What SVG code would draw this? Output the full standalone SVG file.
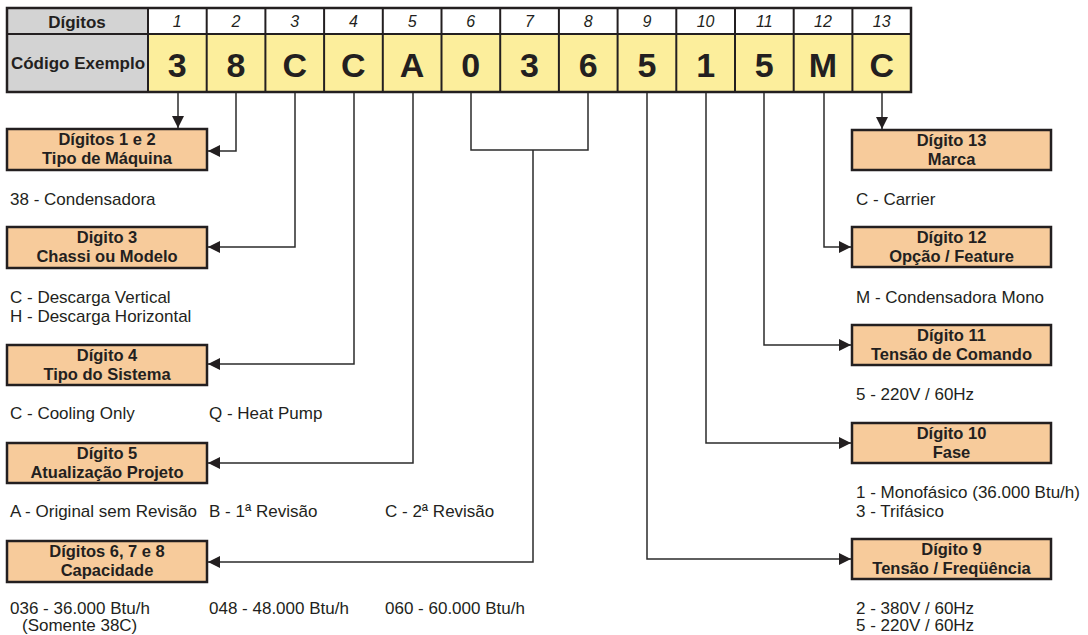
<svg xmlns="http://www.w3.org/2000/svg" width="1088" height="635" viewBox="0 0 1088 635">
<defs>
<style>
.hdr{font-family:"Liberation Sans",Arial,sans-serif;font-weight:bold;fill:#231F20;text-anchor:middle}
.num{font-family:"Liberation Sans",Arial,sans-serif;font-style:italic;font-size:16px;fill:#231F20;text-anchor:middle}
.code{font-family:"Liberation Sans",Arial,sans-serif;font-weight:bold;font-size:34px;fill:#231F20;text-anchor:middle}
.box rect{fill:#F7CB9B;stroke:#231F20;stroke-width:2.5}
.box text{font-family:"Liberation Sans",Arial,sans-serif;font-weight:bold;font-size:16.5px;fill:#231F20;text-anchor:middle}
.desc{font-family:"Liberation Sans",Arial,sans-serif;font-size:17px;fill:#231F20}
.cell{stroke:#231F20;stroke-width:2}
.conn path{fill:none;stroke:#2b2b2b;stroke-width:1.5}
</style>
<marker id="ah" markerUnits="userSpaceOnUse" markerWidth="12" markerHeight="12" viewBox="0 0 12 12" refX="12" refY="6" orient="auto">
<path d="M0,0 L12,6 L0,12 Z" fill="#231F20"/>
</marker>
</defs>
<rect width="1088" height="635" fill="#ffffff"/>
<g id="table">
<rect x="7" y="8" width="141" height="84" fill="#D3D3D3"/>
<rect x="148" y="8" width="763" height="26" fill="#ffffff"/>
<rect x="148" y="34" width="763" height="58" fill="#FCEE9C"/>
<g class="cell">
<line x1="7" y1="34" x2="911" y2="34"/>
<line x1="148" y1="8" x2="148" y2="92"/>
<line x1="206.7" y1="8" x2="206.7" y2="92"/>
<line x1="265.4" y1="8" x2="265.4" y2="92"/>
<line x1="324.1" y1="8" x2="324.1" y2="92"/>
<line x1="382.8" y1="8" x2="382.8" y2="92"/>
<line x1="441.5" y1="8" x2="441.5" y2="92"/>
<line x1="500.2" y1="8" x2="500.2" y2="92"/>
<line x1="558.9" y1="8" x2="558.9" y2="92"/>
<line x1="617.6" y1="8" x2="617.6" y2="92"/>
<line x1="676.3" y1="8" x2="676.3" y2="92"/>
<line x1="735" y1="8" x2="735" y2="92"/>
<line x1="793.7" y1="8" x2="793.7" y2="92"/>
<line x1="852.4" y1="8" x2="852.4" y2="92"/>
</g>
<rect x="7" y="8" width="904" height="84" fill="none" stroke="#231F20" stroke-width="2.5"/>
<text class="hdr" x="77" y="28" font-size="17">Dígitos</text>
<text class="hdr" x="78" y="69" font-size="17">Código Exemplo</text>
<text class="num" x="177.3" y="27">1</text>
<text class="num" x="236" y="27">2</text>
<text class="num" x="294.7" y="27">3</text>
<text class="num" x="353.4" y="27">4</text>
<text class="num" x="412.1" y="27">5</text>
<text class="num" x="470.8" y="27">6</text>
<text class="num" x="529.5" y="27">7</text>
<text class="num" x="588.2" y="27">8</text>
<text class="num" x="646.9" y="27">9</text>
<text class="num" x="705.6" y="27">10</text>
<text class="num" x="764.3" y="27">11</text>
<text class="num" x="823" y="27">12</text>
<text class="num" x="881.7" y="27">13</text>
<text class="code" x="177.3" y="77">3</text>
<text class="code" x="236" y="77">8</text>
<text class="code" x="294.7" y="77">C</text>
<text class="code" x="353.4" y="77">C</text>
<text class="code" x="412.1" y="77">A</text>
<text class="code" x="470.8" y="77">0</text>
<text class="code" x="529.5" y="77">3</text>
<text class="code" x="588.2" y="77">6</text>
<text class="code" x="646.9" y="77">5</text>
<text class="code" x="705.6" y="77">1</text>
<text class="code" x="764.3" y="77">5</text>
<text class="code" x="823" y="77">M</text>
<text class="code" x="881.7" y="77">C</text>
</g>
<g id="connectors" class="conn">
<path d="M178,93 V128" marker-end="url(#ah)"/>
<path d="M236,93 V151 H208" marker-end="url(#ah)"/>
<path d="M295,93 V247 H208" marker-end="url(#ah)"/>
<path d="M354,93 V364 H208" marker-end="url(#ah)"/>
<path d="M413,93 V463 H208" marker-end="url(#ah)"/>
<path d="M471,93 V150 H588 V93"/>
<path d="M533,150 V562 H208" marker-end="url(#ah)"/>
<path d="M647,93 V559 H851" marker-end="url(#ah)"/>
<path d="M706,93 V443 H851" marker-end="url(#ah)"/>
<path d="M764,93 V345 H851" marker-end="url(#ah)"/>
<path d="M824,93 V247 H851" marker-end="url(#ah)"/>
<path d="M882,93 V129" marker-end="url(#ah)"/>
</g>
<g id="box-d12" class="box"><rect x="7" y="129" width="200" height="41"/><text x="107" y="145">Dígitos 1 e 2</text><text x="107" y="164">Tipo de Máquina</text></g>
<g id="box-d3" class="box"><rect x="7" y="227" width="200" height="41"/><text x="107" y="243">Digito 3</text><text x="107" y="262">Chassi ou Modelo</text></g>
<g id="box-d4" class="box"><rect x="7" y="345" width="200" height="40"/><text x="107" y="361">Dígito 4</text><text x="107" y="380">Tipo do Sistema</text></g>
<g id="box-d5" class="box"><rect x="7" y="443" width="200" height="40"/><text x="107" y="459">Dígito 5</text><text x="107" y="478">Atualização Projeto</text></g>
<g id="box-d678" class="box"><rect x="7" y="541" width="200" height="41"/><text x="107" y="557">Dígitos 6, 7 e 8</text><text x="107" y="576">Capacidade</text></g>
<g id="box-d13" class="box"><rect x="852" y="130" width="199" height="40"/><text x="951.5" y="146">Dígito 13</text><text x="951.5" y="165">Marca</text></g>
<g id="box-d12b" class="box"><rect x="852" y="227" width="199" height="40"/><text x="951.5" y="243">Dígito 12</text><text x="951.5" y="262">Opção / Feature</text></g>
<g id="box-d11" class="box"><rect x="852" y="325" width="199" height="40"/><text x="951.5" y="341">Dígito 11</text><text x="951.5" y="360">Tensão de Comando</text></g>
<g id="box-d10" class="box"><rect x="852" y="423" width="199" height="40"/><text x="951.5" y="439">Dígito 10</text><text x="951.5" y="458">Fase</text></g>
<g id="box-d9" class="box"><rect x="852" y="539" width="199" height="40"/><text x="951.5" y="555">Dígito 9</text><text x="951.5" y="574">Tensão / Freqüência</text></g>
<g id="descriptions">
<text class="desc" x="10" y="205">38 - Condensadora</text>
<text class="desc" x="10" y="303">C - Descarga Vertical</text>
<text class="desc" x="10" y="322">H - Descarga Horizontal</text>
<text class="desc" x="10" y="419">C - Cooling Only</text>
<text class="desc" x="209" y="419">Q - Heat Pump</text>
<text class="desc" x="10" y="517">A - Original sem Revisão</text>
<text class="desc" x="209" y="517">B - 1ª Revisão</text>
<text class="desc" x="385" y="517">C - 2ª Revisão</text>
<text class="desc" x="10" y="614">036 - 36.000 Btu/h</text>
<text class="desc" x="22" y="631">(Somente 38C)</text>
<text class="desc" x="209" y="614">048 - 48.000 Btu/h</text>
<text class="desc" x="385" y="614">060 - 60.000 Btu/h</text>
<text class="desc" x="856" y="205">C - Carrier</text>
<text class="desc" x="856" y="303">M - Condensadora Mono</text>
<text class="desc" x="856" y="400">5 - 220V / 60Hz</text>
<text class="desc" x="856" y="498">1 - Monofásico (36.000 Btu/h)</text>
<text class="desc" x="856" y="517">3 - Trifásico</text>
<text class="desc" x="856" y="614">2 - 380V / 60Hz</text>
<text class="desc" x="856" y="631">5 - 220V / 60Hz</text>
</g>
</svg>
